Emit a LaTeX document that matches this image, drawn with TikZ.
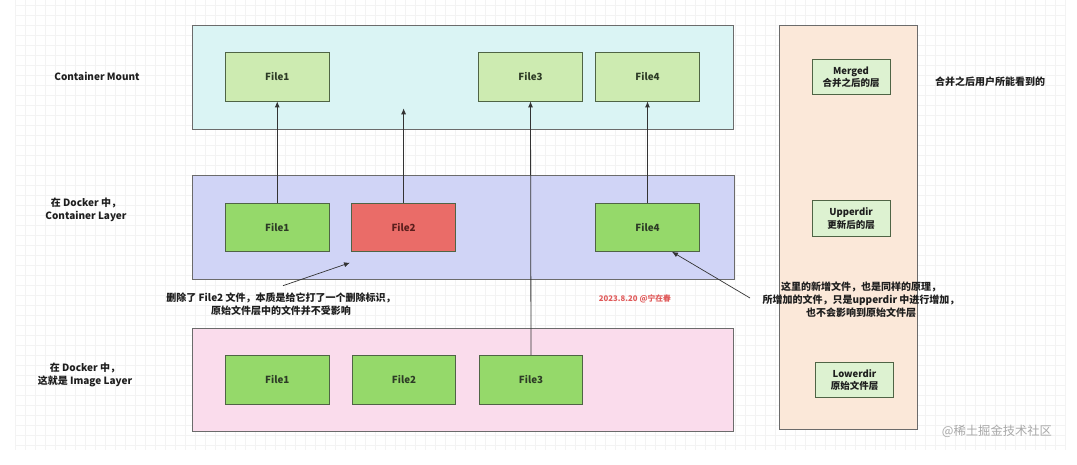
\documentclass[tikz,border=0pt]{standalone}
\usepackage{fontspec}
\setmainfont{Noto Sans CJK SC}
\usetikzlibrary{arrows.meta}
\definecolor{gridc}{HTML}{F3F3F3}
\definecolor{topfill}{HTML}{DAF4F4}
\definecolor{midfill}{HTML}{D0D4F6}
\definecolor{botfill}{HTML}{FADCEC}
\definecolor{colfill}{HTML}{FBE8D9}
\definecolor{lightgreen}{HTML}{CDEBB1}
\definecolor{green}{HTML}{95D96A}
\definecolor{redfill}{HTML}{EA6C68}
\definecolor{palegreen}{HTML}{DDF2D1}
\definecolor{bordc}{HTML}{6B6B6B}
\definecolor{fileborder}{HTML}{4F6445}
\definecolor{filetext}{HTML}{2D3B26}
\definecolor{redtext}{HTML}{5A1E1C}
\definecolor{txt}{HTML}{1E1E1E}
\definecolor{wmred}{HTML}{E05A5A}
\definecolor{wmgray}{HTML}{A8A8A8}
\definecolor{arrowc}{HTML}{333333}
\begin{document}
\begin{tikzpicture}[x=1pt,y=-1pt,
  layer/.style={draw=bordc, line width=0.8pt, inner sep=0pt},
  filebox/.style={draw=fileborder, line width=0.8pt, minimum width=103.5pt, minimum height=48.5pt, inner sep=0pt,
    font=\fontsize{9.8}{12}\selectfont\bfseries, text=filetext},
  dirbox/.style={draw=fileborder, line width=0.7pt, fill=palegreen, minimum width=78pt, minimum height=35.5pt, inner sep=0pt,
    align=center, font=\fontsize{9.5}{12.5}\selectfont\bfseries, text=txt},
  label/.style={align=center, font=\fontsize{10}{13}\selectfont\bfseries, text=txt, inner sep=0pt},
  conn/.style={draw=arrowc, line width=0.8pt, -{Latex[length=6pt,width=5pt]}}]
\useasboundingbox (0,0) rectangle (1077,465);
\fill[white] (0,0) rectangle (1077,465);
% background grid
\foreach \gx in {15,25,...,1065} {\draw[gridc, line width=0.5pt] (\gx,0) -- (\gx,450);}
\foreach \gy in {5,15,...,445} {\draw[gridc, line width=0.5pt] (15,\gy) -- (1065,\gy);}
% layers
\node[layer, fill=topfill, minimum width=541pt, minimum height=103.5pt] (top) at (462.5,77.25) {};
\node[layer, fill=midfill, minimum width=542pt, minimum height=103.7pt] (mid) at (463,227.2) {};
\node[layer, fill=botfill, minimum width=541pt, minimum height=103pt] (bot) at (462.5,379.5) {};
\node[layer, fill=colfill, minimum width=137.7pt, minimum height=404pt] (col) at (848.2,227.5) {};
% top files
\node[filebox, fill=lightgreen] (tf1) at (277.25,76.75) {File1};
\node[filebox, fill=lightgreen] (tf3) at (530.5,76.75) {File3};
\node[filebox, fill=lightgreen] (tf4) at (647.5,76.75) {File4};
% mid files
\node[filebox, fill=green] (mf1) at (277.25,227.2) {File1};
\node[filebox, fill=redfill, text=redtext] (mf2) at (403.6,227.2) {File2};
\node[filebox, fill=green] (mf4) at (647.5,227.2) {File4};
% bottom files
\node[filebox, fill=green, minimum height=49pt] (bf1) at (277.3,379.8) {File1};
\node[filebox, fill=green, minimum height=49pt] (bf2) at (404,379.8) {File2};
\node[filebox, fill=green, minimum height=49pt] (bf3) at (531,379.8) {File3};
% right column boxes
\node[dirbox] (merged) at (851,77) {Merged\\合并之后的层};
\node[dirbox] (upper) at (851,218.5) {Upperdir\\更新后的层};
\node[dirbox, minimum width=78.4pt] (lower) at (854.5,380) {Lowerdir\\原始文件层};
% left labels
\node[label] (lcm) at (97,76) {Container Mount};
\node[label] (lcl) at (86,209.5) {在 Docker 中，\\Container Layer};
\node[label] (lil) at (85,374.5) {在 Docker 中，\\这就是 Image Layer};
\node[label] (rmt) at (990,82) {合并之后用户所能看到的};
% annotations
\node[label] (ann1) at (281,304.5) {删除了 File2 文件，本质是给它打了一个删除标识，\\原始文件层中的文件并不受影响};
\node[label] (ann2) at (861,300) {这里的新增文件，也是同样的原理，\\所增加的文件，只是upperdir 中进行增加，\\也不会影响到原始文件层};
\node[inner sep=0pt, font=\fontsize{7.8}{9}\selectfont\bfseries, text=wmred] (wm1) at (635,299) {2023.8.20 @宁在春};
\node[inner sep=0pt, font=\fontsize{12.3}{14}\selectfont, text=wmgray] (wm2) at (997,431) {@稀土掘金技术社区};
% connectors
\coordinate (f2tip) at (403.6,108.3);
\draw[conn] (mf1.north) -- (tf1.south);
\draw[conn] (mf2.north) -- (f2tip);
\draw[conn] (bf3.north) -- (tf3.south);
\draw[conn] (mf4.north) -- (tf4.south);
\coordinate (a1s) at (283,285.7);
\coordinate (a1e) at (350,262.7);
\draw[conn, line width=0.7pt] (a1s) -- (a1e);
\coordinate (a2s) at (750,298);
\coordinate (a2e) at (672,251.8);
\draw[conn, line width=0.7pt] (a2s) -- (a2e);
\end{tikzpicture}
\end{document}
